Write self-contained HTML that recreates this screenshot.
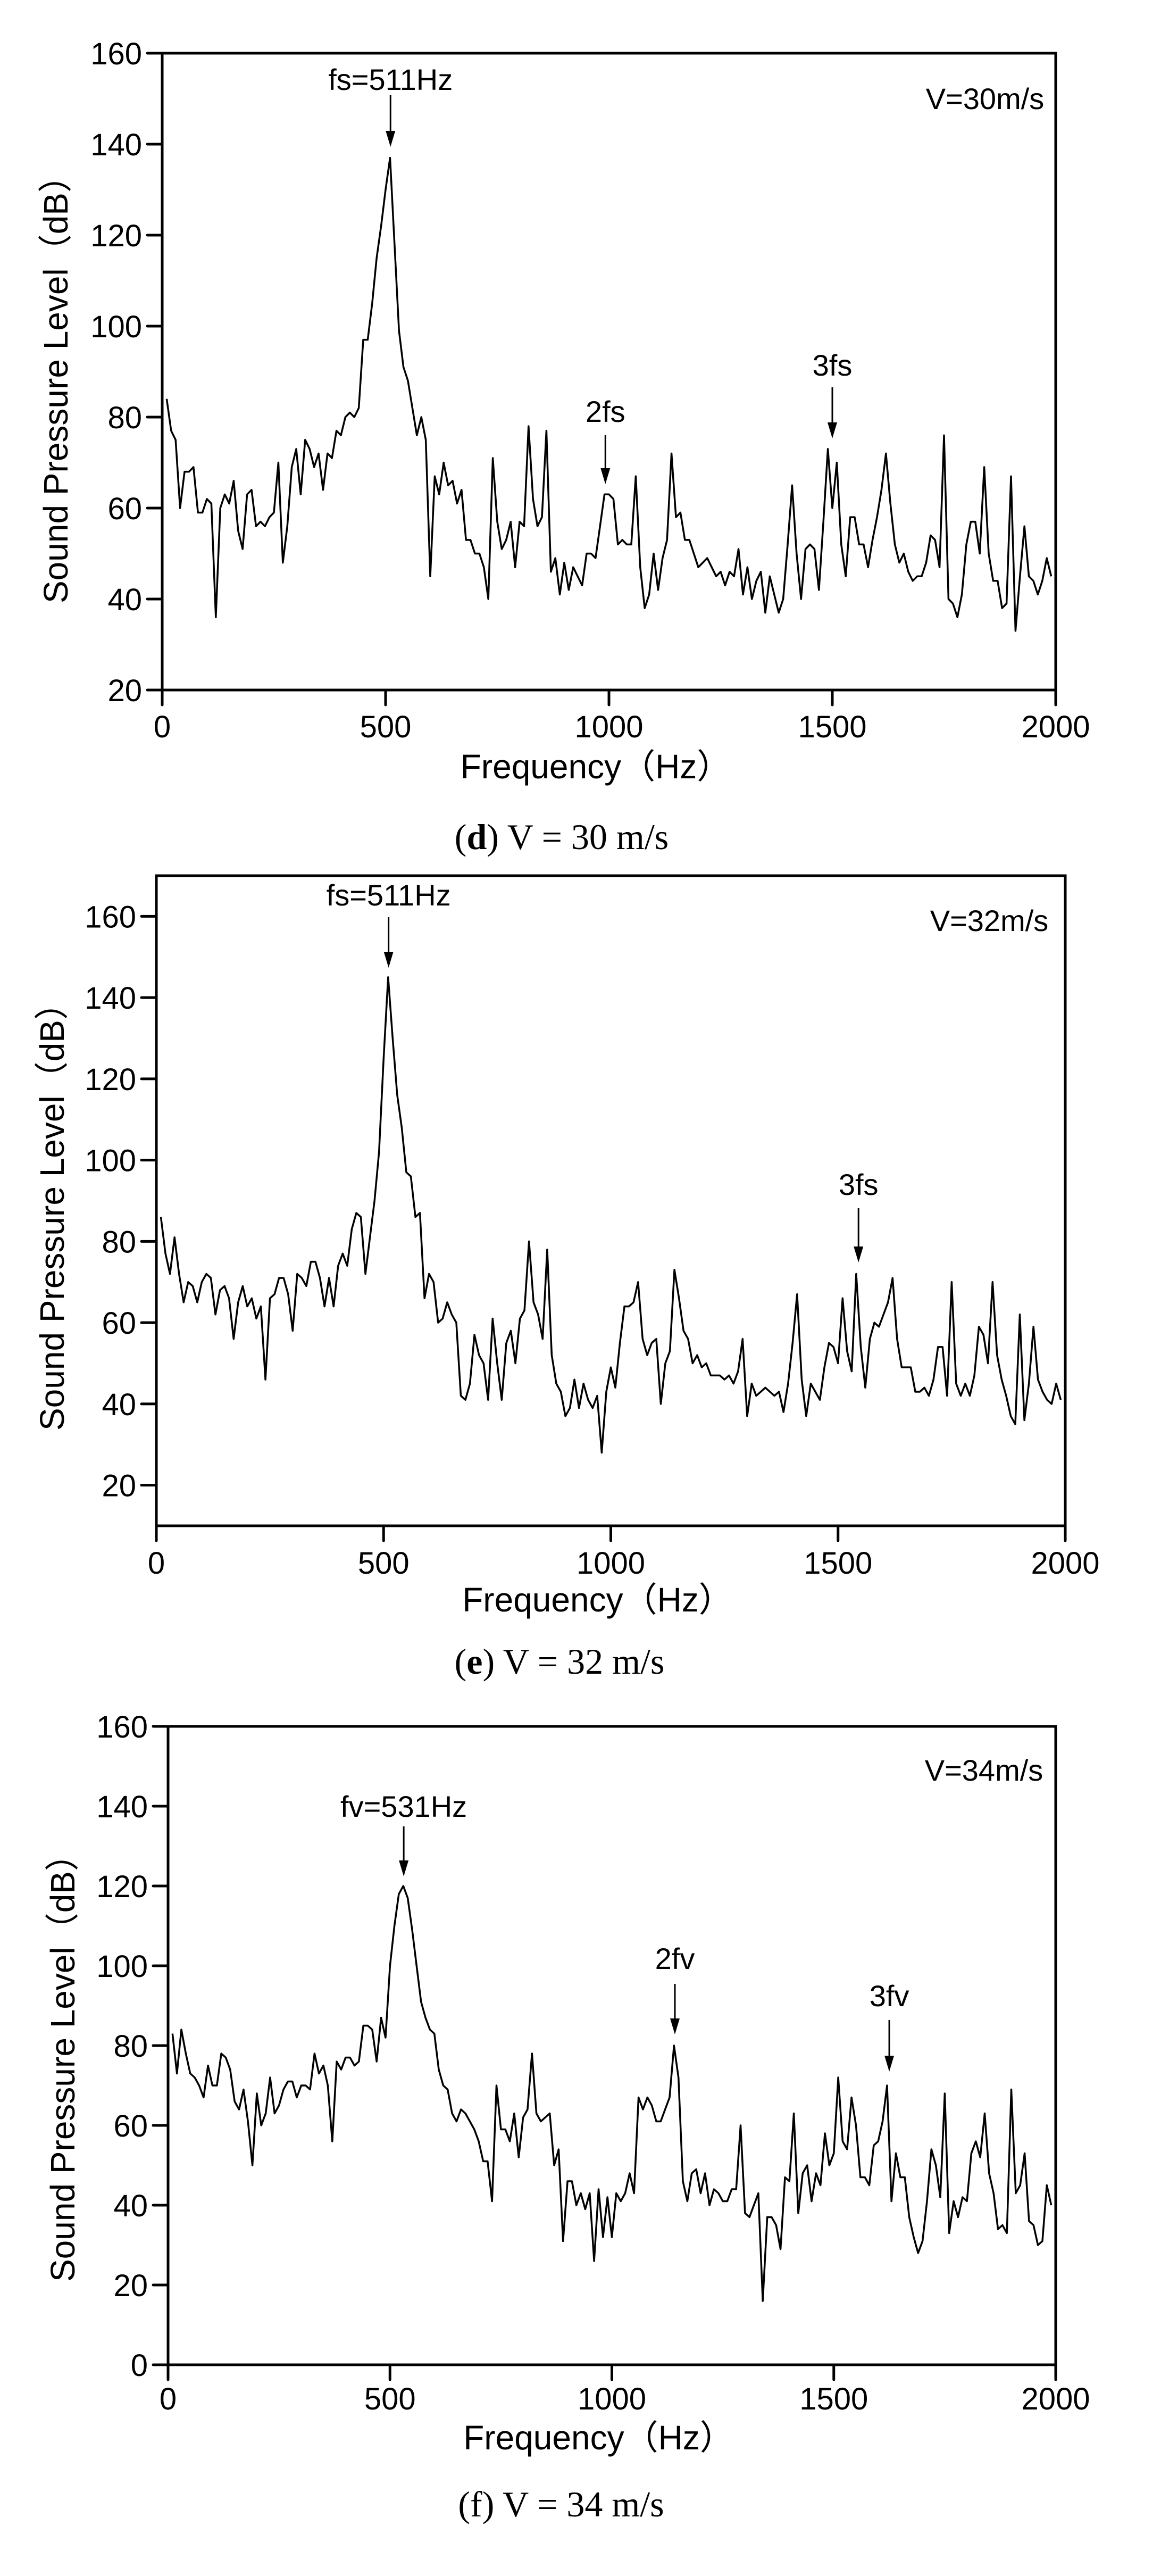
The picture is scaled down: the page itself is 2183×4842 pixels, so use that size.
<!DOCTYPE html>
<html><head><meta charset="utf-8">
<style>
html,body{margin:0;padding:0;background:#fff;}
svg{display:block;}
</style></head>
<body>
<svg id="fig" xmlns="http://www.w3.org/2000/svg" width="2183" height="4842" viewBox="0 0 2183 4842"></svg>
<script>
// ---- data ----
const freqStart = 10;
const freqStep = 10;
const xTicks = [0, 500, 1000, 1500, 2000];
const yTicksD = [20, 40, 60, 80, 100, 120, 140, 160];
const yTicksE = [20, 40, 60, 80, 100, 120, 140, 160];
const yTicksF = [0, 20, 40, 60, 80, 100, 120, 140, 160];
const splD = [84,77,75,60,68,68,69,59,59,62,61,36,60,63,61,66,55,51,63,64,56,57,56,58,59,70,48,56,69,73,63,75,73,69,72,64,72,71,77,76,80,81,80,82,97,97,105,115,122,130,137,118,99,91,88,82,76,80,75,45,67,63,70,65,66,61,64,53,53,50,50,47,40,71,57,51,53,57,47,57,56,78,62,56,58,77,46,49,41,48,42,47,45,43,50,50,49,56,63,63,62,52,53,52,52,67,47,38,41,50,42,49,53,72,58,59,53,53,50,47,48,49,47,45,46,43,46,45,51,41,47,40,44,46,37,45,41,37,40,52,65,50,40,51,52,51,42,57,73,60,70,52,45,58,58,52,52,47,53,58,64,72,61,52,48,50,46,44,45,45,48,54,53,47,76,40,39,36,41,52,57,57,50,69,50,44,44,38,39,67,33,45,56,45,44,41,44,49,45];
const splE = [86,77,72,81,72,65,70,69,65,70,72,71,62,68,69,66,56,65,69,64,66,61,64,46,66,67,71,71,67,58,72,71,69,75,75,71,64,71,64,74,77,74,83,87,86,72,81,90,102,125,145,130,116,108,97,96,86,87,66,72,70,60,61,65,62,60,42,41,45,57,52,50,41,61,50,41,55,58,50,61,63,80,65,62,56,78,52,45,43,37,39,46,39,45,41,39,42,28,43,49,44,55,64,64,65,70,56,52,55,56,40,50,53,73,66,58,56,50,52,49,50,47,47,47,46,47,45,48,56,37,45,42,43,44,43,42,43,38,45,55,67,46,37,45,43,41,49,55,54,50,66,53,48,72,54,44,56,60,59,62,65,71,56,49,49,49,43,43,44,42,46,54,54,42,70,45,42,45,42,47,59,57,50,70,52,46,42,37,35,62,36,45,59,46,43,41,40,45,41];
const splF = [83,73,84,78,73,72,70,67,75,70,70,78,77,74,66,64,69,61,50,68,60,63,72,63,65,69,71,71,67,70,70,69,78,73,75,70,56,76,74,77,77,75,76,85,85,84,76,87,82,100,110,118,120,117,109,100,91,87,84,83,74,70,69,63,61,64,63,61,59,56,51,51,41,70,59,59,56,63,52,62,64,78,63,61,62,63,50,54,31,46,46,40,43,39,43,26,44,32,42,32,43,41,43,48,43,67,64,67,65,61,61,64,67,80,72,46,41,48,49,43,48,40,44,43,41,41,44,44,60,38,37,40,43,16,37,37,35,29,47,46,63,38,48,50,41,48,45,58,50,53,72,56,54,67,60,47,47,45,55,56,61,70,41,53,47,47,37,32,28,31,41,54,50,42,68,33,41,37,42,41,53,56,52,63,48,43,34,35,33,69,43,45,53,36,35,30,31,45,40];

const NS = 'http://www.w3.org/2000/svg';
const svg = document.getElementById('fig');
function mk(tag, attrs, parent) {
  const e = document.createElementNS(NS, tag);
  for (const k in attrs) e.setAttribute(k, attrs[k]);
  (parent || svg).appendChild(e);
  return e;
}
const SANS = '"Liberation Sans","Noto Sans CJK SC",sans-serif';
const SERIF = '"Liberation Serif",serif';

function chart(cfg) {
  const g = mk('g', {});
  
  
  const X = f => cfg.x0 + (f - 0) / 2000 * (cfg.x1 - cfg.x0);
  const Y = v => cfg.yb - (v - cfg.ymin) / (cfg.ymax - cfg.ymin) * (cfg.yb - cfg.yt);
  const fr = mk('rect', {x: cfg.x0, y: cfg.yt, width: cfg.x1 - cfg.x0, height: cfg.yb - cfg.yt, fill: 'none', stroke: '#000', 'stroke-width': 5}, g);
  
  
  cfg.yTicks.forEach(v => {
    const yy = Y(v);
    const t = mk('line', {x1: cfg.x0 - 28, x2: cfg.x0, y1: yy, y2: yy, stroke: '#000', 'stroke-width': 5, 'stroke-linecap': 'round'}, g);
    
    
    const l = mk('text', {x: cfg.x0 - 38, y: yy + 21, 'text-anchor': 'end', 'font-family': SANS, 'font-size': 58}, g);
    l.textContent = v;
    
    
  });
  xTicks.forEach(v => {
    const xx = X(v);
    const t = mk('line', {x1: xx, x2: xx, y1: cfg.yb, y2: cfg.yb + 28, stroke: '#000', 'stroke-width': 5, 'stroke-linecap': 'round'}, g);
    
    
    const l = mk('text', {x: xx, y: cfg.tickBase, 'text-anchor': 'middle', 'font-family': SANS, 'font-size': 58}, g);
    l.textContent = v;
    
    
  });
  let d = '';
  cfg.data.forEach((v, i) => {
    const f = freqStart + i * freqStep;
    d += (i ? 'L' : 'M') + X(f).toFixed(1) + ' ' + Y(v).toFixed(1);
  });
  const p = mk('path', {d: d, fill: 'none', stroke: '#000', 'stroke-width': 3.5, 'stroke-linejoin': 'round'}, g);
  
  
  const xt = mk('text', {x: (cfg.x0 + cfg.x1) / 2 - 25, y: cfg.xlabBase, 'text-anchor': 'middle', 'font-family': SANS, 'font-size': 64}, g);
  xt.textContent = 'Frequency（Hz）';
  
  
  const yt = mk('text', {x: 0, y: 0, 'text-anchor': 'middle', 'font-family': SANS, 'font-size': 64, transform: 'translate(' + (cfg.ylabX + 22) + ',' + cfg.ylabY + ') rotate(-90)'}, g);
  yt.textContent = 'Sound Pressure Level（dB）';
  
  
  const vl = mk('text', {x: cfg.vX, y: cfg.vY, 'text-anchor': 'middle', 'font-family': SANS, 'font-size': 56}, g);
  vl.textContent = cfg.vText;
  
  
  cfg.ann.forEach(a => {
    const ax = X(a.f);
    const t = mk('text', {x: ax, y: a.ty, 'text-anchor': 'middle', 'font-family': SANS, 'font-size': 56}, g);
    t.textContent = a.text;
    
    
    const ln = mk('line', {x1: ax, x2: ax, y1: a.y1, y2: a.y2 - 20, stroke: '#000', 'stroke-width': 3}, g);
    
    
    const hd = mk('path', {d: 'M' + (ax - 9) + ' ' + (a.y2 - 30) + 'L' + (ax + 9) + ' ' + (a.y2 - 30) + 'L' + ax + ' ' + a.y2 + 'Z', fill: '#000'}, g);
    
    
  });
  const cp = mk('text', {x: cfg.capX, y: cfg.capY, 'text-anchor': 'middle', 'font-family': SERIF, 'font-size': 68}, g);
  
  
  const b1 = mk('tspan', {}, cp); b1.textContent = '(';
  const b2 = mk('tspan', {'font-weight': cfg.capBold ? 'bold' : 'normal'}, cp); b2.textContent = cfg.capLetter;
  const b3 = mk('tspan', {}, cp); b3.textContent = ') ' + cfg.capRest;
}

chart({name: 'chart-d-30ms', x0: 305, x1: 1985, yt: 100, yb: 1297, ymin: 20, ymax: 160, yTicks: yTicksD, data: splD,
  tickBase: 1386, xlabBase: 1463, ylabX: 105, ylabY: 716, vX: 1852, vY: 205, vText: 'V=30m/s',
  ann: [{f: 511, text: 'fs=511Hz', ty: 169, y1: 179, y2: 276}, {f: 992, text: '2fs', ty: 793, y1: 818, y2: 910}, {f: 1500, text: '3fs', ty: 706, y1: 728, y2: 824}],
  capX: 1056, capY: 1596, capLetter: 'd', capBold: true, capRest: 'V = 30 m/s'});

chart({name: 'chart-e-32ms', x0: 294, x1: 2003, yt: 1646, yb: 2868, ymin: 10, ymax: 170, yTicks: yTicksE, data: splE,
  tickBase: 2958, xlabBase: 3029, ylabX: 98, ylabY: 2271, vX: 1860, vY: 1750, vText: 'V=32m/s',
  ann: [{f: 511, text: 'fs=511Hz', ty: 1702, y1: 1724, y2: 1819}, {f: 1545, text: '3fs', ty: 2246, y1: 2271, y2: 2373}],
  capX: 1052, capY: 3146, capLetter: 'e', capBold: true, capRest: 'V = 32 m/s'});

chart({name: 'chart-f-34ms', x0: 316, x1: 1985, yt: 3245, yb: 4445, ymin: 0, ymax: 160, yTicks: yTicksF, data: splF,
  tickBase: 4529, xlabBase: 4604, ylabX: 118, ylabY: 3871, vX: 1850, vY: 3347, vText: 'V=34m/s',
  ann: [{f: 531, text: 'fv=531Hz', ty: 3415, y1: 3433, y2: 3527}, {f: 1142, text: '2fv', ty: 3701, y1: 3729, y2: 3824}, {f: 1625, text: '3fv', ty: 3771, y1: 3797, y2: 3894}],
  capX: 1055, capY: 4730, capLetter: 'f', capBold: false, capRest: 'V = 34 m/s'});
</script>
</body></html>
